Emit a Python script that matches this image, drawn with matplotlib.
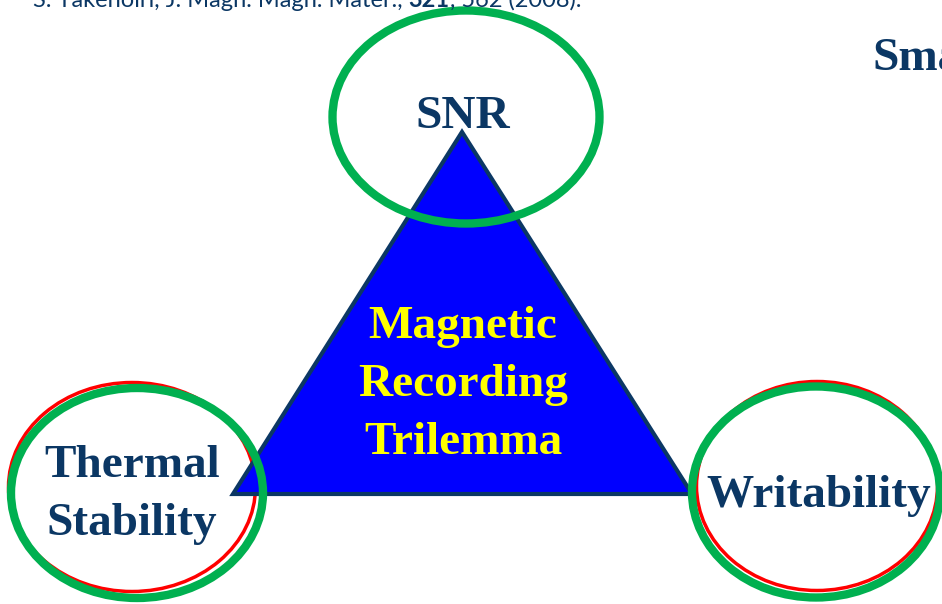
"""Magnetic recording trilemma diagram."""
import matplotlib
matplotlib.use('Agg')
import matplotlib.pyplot as plt
from matplotlib.patches import Ellipse, Polygon

NAVY = '#0B3764'
GREEN = '#00B050'
RED = '#FF0000'
SERIF = 'Liberation Serif'

# corner labels (one entry per text line) and centre title
corner_lines = ['SNR', 'Thermal', 'Stability', 'Writability']
title_lines = ['Magnetic', 'Recording', 'Trilemma']
citation = ['S. Takenoiri, J. Magn. Magn. Mater., ', '321', ', 562 (2008).']

fig = plt.figure(figsize=(9.42, 6.04), dpi=100)
ax = fig.add_axes([0, 0, 1, 1])
ax.set_xlim(0, 942); ax.set_ylim(604, 0)
ax.axis('off')

# triangle
tri = Polygon([(462, 132), (233, 494), (692, 494)], closed=True,
              facecolor='#0000FF', edgecolor=NAVY, lw=3, joinstyle='miter', zorder=2)
ax.add_patch(tri)

# ellipses: thin red under thick green
ax.add_patch(Ellipse((466, 117), 267, 213, fill=False, ec=GREEN, lw=6, zorder=3))
ax.add_patch(Ellipse((132, 487), 247, 209, fill=False, ec=RED, lw=2.5, zorder=1))
ax.add_patch(Ellipse((137, 493), 252, 210, fill=False, ec=GREEN, lw=6, zorder=3))
ax.add_patch(Ellipse((817, 486), 241, 209, fill=False, ec=RED, lw=2.5, zorder=1))
ax.add_patch(Ellipse((816, 492), 248, 211, fill=False, ec=GREEN, lw=6, zorder=3))

kw = dict(family=SERIF, fontweight='bold', fontsize=34, ha='center', va='baseline', zorder=5)
ax.text(463, 128, corner_lines[0], color=NAVY, **kw)
ax.text(132, 477, corner_lines[1], color=NAVY, **kw)
ax.text(132, 535, corner_lines[2], color=NAVY, **kw)
ax.text(819, 507, corner_lines[3], color=NAVY, **kw)
for y, s in zip([338, 396, 454], title_lines):
    ax.text(463, y, s, color='#FFFF00', **kw)

# clipped heading at right edge
ax.text(872, 70, 'Small', color=NAVY, family=SERIF, fontweight='bold',
        fontsize=34, ha='left', va='baseline')

# citation, cut off at the top of the slide
ckw = dict(family='Lato', fontsize=17, color=NAVY)
t1 = ax.text(33, 7, citation[0], va='baseline', **ckw)
t2 = ax.annotate(citation[1], xy=(1, 0), xycoords=t1, ha='left', va='bottom',
                 fontweight='bold', **ckw)
ax.annotate(citation[2], xy=(1, 0), xycoords=t2, ha='left', va='bottom', **ckw)

fig.savefig('out.png', dpi=100)
